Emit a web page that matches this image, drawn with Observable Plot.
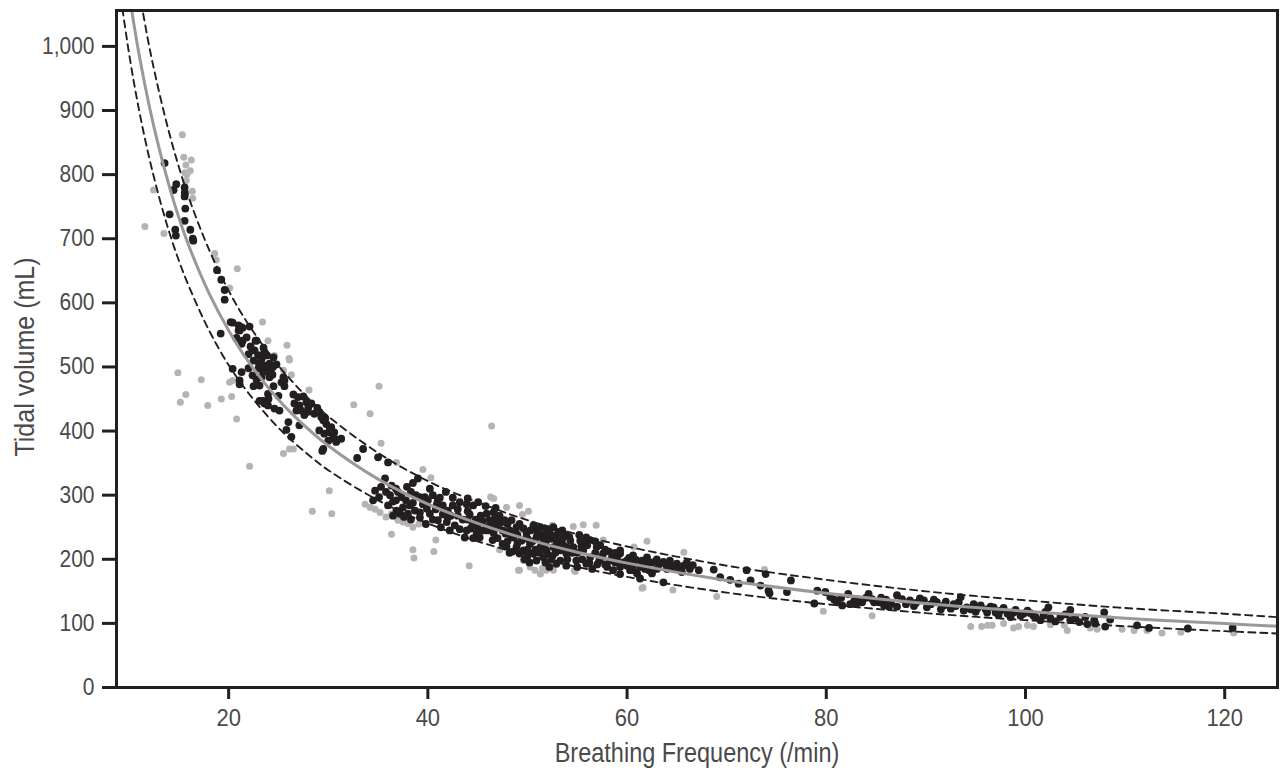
<!DOCTYPE html>
<html>
<head>
<meta charset="utf-8">
<script src="https://cdn.jsdelivr.net/npm/d3@7"></script>
<script src="https://cdn.jsdelivr.net/npm/@observablehq/plot@0.6"></script>
<style>
  html, body { margin: 0; padding: 0; background: #fff; }
  #chart svg g[aria-label$="tick label"] { fill: #4a4a4a; }
</style>
</head>
<body>
<div id="chart"></div>
<script>
// ---- axis setup ----
const xTicks = [20, 40, 60, 80, 100, 120];
const yTicks = [0, 100, 200, 300, 400, 500, 600, 700, 800, 900, 1000];
const xLabel = "Breathing Frequency (/min)";
const yLabel = "Tidal volume (mL)";

// ---- fitted curve (grey, solid) ----
const fitX   = [10, 11, 12, 13, 14, 15, 16, 18, 20, 22, 25, 28, 30, 35, 40, 45, 50, 55, 60, 70, 80, 90, 100, 110, 120, 126];
const fitY   = [1082, 988, 909, 842, 784, 733, 689, 616, 557, 508, 449, 403, 377, 325, 286, 256, 231, 211, 194, 167, 147, 131, 119, 108, 99.7, 95];
// ---- upper / lower dashed bounds ----
const upperX = [11, 12, 13, 14, 15, 16, 18, 20, 22, 25, 28, 30, 35, 40, 45, 50, 55, 60, 70, 80, 90, 100, 110, 120, 126];
const upperY = [1088, 1002, 930, 867, 812, 764, 684, 619, 566, 502, 451, 423, 366, 322, 289, 261, 239, 220, 190, 168, 150, 136, 124, 115, 109];
const lowerX = [9, 10, 11, 12, 13, 14, 15, 16, 18, 20, 22, 25, 28, 30, 35, 40, 45, 50, 55, 60, 70, 80, 90, 100, 110, 120, 126];
const lowerY = [1096, 989, 901, 828, 766, 712, 666, 626, 558, 503, 459, 405, 363, 339, 292, 256, 228, 206, 188, 172.5, 148, 130, 116, 105, 95.6, 87.9, 83.8];

// ---- grey observations [frequency, volume] ----
const greyPts = [
  [15.35,862],[15.5,827],[16.25,823],[15.7,815],[16.15,806],[15.6,803],[15.8,800],[15.75,791],[16.35,774],[16.4,763],
  [12.46,776],[11.59,719],[13.5,708],[18.6,677],[18.76,667],[20.87,653],[20.1,623],[23.4,570],[23.95,541],[25.86,534],
  [26.06,513],[24.45,516],[26.1,511],[25.5,495],[26.3,488],[24.6,518],[20.1,476],[20.4,479],[17.25,480],[15.7,457],
  [15.15,445],[17.9,440],[19.26,450],[20.3,454],[20.8,419],[22.1,345],[28.07,464],[35.1,470],[32.56,441],[34.2,427],
  [35.3,381],[26.1,372],[26.5,372],[25.5,365],[36.85,351],[39.5,340],[40.3,327],[46.4,408],[30.1,307],[14.9,491],
  [28.4,275],[30.35,271],[33.7,286],[34.2,281],[34.7,278],[35.2,273],[35.8,266],[36.35,271],[37.0,261],[37.5,258],
  [38.0,256],[38.5,250],[39.1,255],[36.35,239],[38.5,215],[38.6,202],[40.6,212],[40.8,230],[44.15,190],[46.3,297],
  [46.6,295],[47.9,281],[49.2,284],[50.1,275],[49.5,270],[49.1,183],[50.25,188],[50.75,183],[51.3,177],[51.9,183],
  [52.6,183],[51.5,186],[54.7,183],[52.5,253],[54.6,251],[55.6,254],[56.9,253],[57.6,230],[60.7,219],[62.0,228],
  [61.5,155],[47.2,215],[65.7,211],[61.6,156],[64.6,152],[69.0,142],[73.8,184],[79.7,119],[49.6,198],[49.2,183],
  [54.8,181],[84.6,112],[94.5,95],[95.6,95],[96.2,97],[96.65,97],[97.8,100],[98.8,93],[99.3,95],[100.2,97],
  [100.8,95],[102.5,98],[103.9,97],[104.2,89],[106.5,93],[107.2,91],[109.7,91],[110.9,89],[112.2,89],[113.7,85],
  [115.6,86],[120.9,85]
];

// ---- black observations [frequency, volume] ----
const blackPts = [
  [13.57,818],[14.74,785],[14.47,776],[15.58,780],[15.6,772],[15.58,766],[14.07,738],[15.65,747],[14.64,714],[14.7,705],
  [15.58,728],[16.15,714],[16.4,700],[16.45,697],
  [18.83,651],[19.26,636],[19.6,620],[19.6,605],[19.2,552],[20.2,570],[20.4,569],[21.27,562],[22.1,563],[21,557],
  [20.77,545],[21.4,541],[22.7,541],[21.3,536],[22.44,526],[23.1,518],[23.6,523],
  [21.0,565],[21.4,561],[21.1,557],[21.8,546],[20.8,545],[21.3,539],[22.8,541],[22.6,526],[22.95,518],[23.3,512],
  [23.85,518],[23.6,502],[23.05,505],[24.1,505],[24.45,500],[24.8,504],[23.95,492],[23.45,492],[20.4,497],[21.3,492],
  [22.4,487],[23.3,484],[24.1,484],[25.5,484],[21.1,479],[21.1,473],[23.1,471],[25.6,470],[23.95,458],[23.1,447],
  [23.6,443],[23.95,440],[24.6,435],[25.1,432],[23.45,447],
  [22.0,520],[22.5,510],[23.5,530],[24.2,495],[24.5,515],[22.0,498],[22.8,480],[24.5,470],[25.0,455],[24.0,450],
  [22.2,532],[23.0,498],[24.4,488],[22.5,470],[25.3,476],[28.0,437],[28.9,436],[29.7,420],[30.6,398],[27.6,425],
  [26.5,457],[26.97,453],[27.5,454],[26.6,443],[27.1,440],[27.8,445],[28.3,443],[27.3,432],[27.97,430],[28.6,427],
  [29.1,430],[26.8,432],[25.6,479],[26.0,414],[25.8,402],[26.3,391],[27.1,409],
  [29.5,417],[29.8,411],[29.1,401],[29.6,396],[30.15,398],[30.5,391],[30.0,385],[30.8,383],[31.3,388],[29.5,372],
  [29.4,369],[30.3,406],[33.5,372],[32.9,358],[35.0,359],[36.0,351],[29.3,422],[30.15,403],[30.65,388],
  [35.7,326],[35.3,313],[36.35,315],[34.7,307],[35.1,297],[34.5,292],[36.2,300],[36.8,292],[37.35,297],[37.9,313],
  [38.5,319],[39.0,326],[41.8,305],[40.5,300],[39.2,297],[39.7,297],
  [36.5,290],[37.8,292],[38.8,300],[40.0,292],[40.8,278],[41.5,270],[42.3,268],[43.0,278],[43.5,262],[39.2,265],
  [38.3,262],[37.6,266],[36.5,268],[39.8,255],[41.3,250],[42.2,245],[35.8,305],[36.8,310],[38.3,305],[40.2,310],
  [41.2,296],[44.0,295],[45.8,283],[46.8,280],
  [37.5,281],[38.2,284],[38.7,276],[36.85,276],[37.2,271],[38.0,271],[39.2,273],[39.9,279],[40.2,271],[40.9,286],
  [41.5,284],[42.0,276],[42.5,284],[43.2,289],[43.9,286],[44.55,284],[45.05,289],[41.0,261],[41.9,258],[42.7,253],
  [43.2,247],[43.9,245],[44.9,241],[45.2,234],[43.7,234],[44.55,233],[45.9,271],[46.6,273],[47.2,268],[47.7,261],
  [46.2,261],[46.9,258],[45.9,250],[46.6,241],[46.5,230],[47.5,224],[48.4,261],[48.9,250],[48.6,234],[49.4,229],
  [48.9,219],[49.6,214],[49.2,209],
  [44.2,270],[44.8,262],[45.3,268],[45.6,245],[46.3,252],[46.8,265],[45.0,240],[44.3,248],
  [47.3,257],[47.5,245],[48.0,255],[48.3,238],[48.8,243],[49.2,255],[49.6,248],[49.9,235],[50.3,245],[50.5,228],
  [47.9,220],[48.2,210],[49.0,225],[50.0,205],[49.7,200],
  [51.0,245],[51.5,238],[51.8,225],[52.2,243],[52.8,237],[53.5,245],[53.8,238],[54.2,235],[50.8,215],[51.2,210],
  [52.0,208],[52.8,210],[53.6,222],[54.5,210],[51.8,195],[52.9,193],[53.9,190],[50.2,195],[52.2,188],
  [55.2,238],[55.8,225],[56.3,230],[56.8,228],[57.3,222],[57.8,215],[58.2,212],[58.8,210],[55.4,220],[55.5,200],
  [56.2,195],[57.0,192],[57.5,204],[58.8,195],[59.6,195],[60.2,202],[60.9,199],[61.8,185],[62.5,195],[63.2,192],
  [63.9,192],[64.8,185],[65.3,187],[66.6,191],[61.0,178],[62.2,183],
  [42.0,265],[43.0,268],[44.0,262],[44.5,255],[45.5,260],[46.0,245],[47.0,250],[47.8,240],[48.2,245],[49.0,238],
  [50.0,232],[50.0,215],[51.0,240],[52.0,238],[53.0,225],[53.5,232],[54.0,218],[54.0,200],[55.0,210],[56.0,222],
  [56.8,210],[57.2,198],[57.8,192],[58.5,205],[47.0,233],[48.0,228],[45.0,250],[44.0,275],[41.0,292],[42.5,296],
  [38.5,288],[37.0,305],[36.0,284],[39.5,286],[40.5,262],[48.5,212],[52.5,205],[55.0,188],[56.5,185],[60.0,190],
  [61.5,198],[63.0,185],[64.5,190],[65.5,180],[66.0,195],[62.5,178],
  [49.9,242],[50.6,253],[51.3,250],[51.9,247],[52.6,250],[53.1,242],[50.9,234],[51.6,229],[52.3,232],[52.9,229],
  [50.25,224],[51.3,219],[51.9,214],[52.6,219],[53.3,214],[50.6,209],[51.6,203],[52.4,200],[53.3,198],[50.9,198],
  [53.9,209],[54.3,229],[54.6,219],[55.3,229],[55.9,234],[55.6,214],[54.9,198],[55.9,193],[56.3,203],[56.95,219],
  [57.6,209],[58.3,198],[59.0,203],[58.0,188],[59.3,214],[59.97,198],[60.6,193],[61.3,188],[62.0,193],[61.3,170],
  [62.0,203],[60.6,183],[59.3,177],[58.6,183],
  [59.3,209],[60.6,206],[59.3,188],[60.3,183],[62.98,200],[63.65,196],[64.3,198],[65.0,193],[65.7,190],[66.3,185],
  [64.0,185],[63.65,164],[67.2,183],[68.7,184],[69.35,172],[70.35,168],[71.2,162],[72.0,183],[72.4,167],[73.4,159],
  [73.9,177],[74.2,151],[74.3,147],[76.05,149],[76.45,167],[78.8,131],[79.1,151],[79.9,149],[80.4,141],[81.1,133],
  [81.6,128],[82.2,146],
  [82.4,130],[83.1,138],[83.6,133],[84.25,146],[84.6,138],[85.3,133],[85.8,128],[87.1,144],[87.1,126],[88.4,136],
  [89.8,136],[90.1,125],[91.1,133],[91.8,128],[92.5,123],[93.3,133],[93.5,141],[94.1,125],[94.8,130],[95.5,128],
  [96.15,117],[96.8,125],[97.5,120],[98.2,115],[98.8,117],[99.5,112],[100.2,120],[100.8,112],[101.5,105],[102.3,125],
  [102.5,108],[104.5,121],[104.5,105],[105.4,102],[106.2,99],[106.9,105],[107.9,117],[108.0,95],[108.5,106],[111.2,97],
  [112.4,93],[116.3,92],[120.8,93],
  [80.8,137],[82.8,135],[84.0,140],[86.0,137],[86.5,131],[88.0,130],[89.0,132],[90.5,130],[92.0,134],[93.0,127],
  [94.5,122],[95.0,118],[96.0,122],[97.0,117],[97.8,124],[99.0,121],[100.5,116],[101.0,110],[103.0,103],[105.0,108],
  [107.0,100],
  [81.5,140],[83.0,130],[84.8,133],[85.5,140],[86.3,126],[87.6,138],[88.8,127],[89.4,139],[90.8,137],[91.5,122],
  [92.8,130],[93.8,120],[95.2,124],[96.5,126],[97.3,113],[98.5,110],[99.8,115],[101.8,112],[102.0,118],[103.5,110],
  [104.0,114],[106.0,110]
];

const fit = fitX.map((x, i) => ({x, y: fitY[i]}));
const upper = upperX.map((x, i) => ({x, y: upperY[i]}));
const lower = lowerX.map((x, i) => ({x, y: lowerY[i]}));

const INK = "#231f20";
const FONT = "'Liberation Sans', Arial, Helvetica, sans-serif";

const chart = Plot.plot({
  width: 1280,
  height: 770,
  marginTop: 10,
  marginRight: 3,
  marginBottom: 83,
  marginLeft: 116,
  style: {fontFamily: FONT, background: "#fff", overflow: "visible"},
  x: {domain: [8.74, 125.3]},
  y: {domain: [0, 1056]},
  marks: [
    Plot.dot(greyPts, {x: d => d[0], y: d => d[1], r: 3.5, fill: "#b4b4b6", stroke: "none"}),
    Plot.dot(blackPts, {x: d => d[0], y: d => d[1], r: 3.9, fill: INK, stroke: "none"}),
    Plot.line(upper, {x: "x", y: "y", curve: "catmull-rom", stroke: INK, strokeWidth: 1.9, strokeDasharray: "7,5", clip: true}),
    Plot.line(lower, {x: "x", y: "y", curve: "catmull-rom", stroke: INK, strokeWidth: 1.9, strokeDasharray: "7,5", clip: true}),
    Plot.line(fit, {x: "x", y: "y", curve: "catmull-rom", stroke: "#999999", strokeWidth: 3, clip: true}),
    Plot.frame({stroke: INK, strokeWidth: 3}),
    Plot.axisX({ticks: xTicks, tickSize: 12, tickPadding: 10, fontSize: 22, stroke: INK, strokeWidth: 3, label: null}),
    Plot.axisY({ticks: yTicks, tickSize: 14, tickPadding: 8, fontSize: 21, stroke: INK, strokeWidth: 3, label: null}),
    Plot.text([xLabel], {frameAnchor: "bottom", dy: 66, textAnchor: "middle", lineAnchor: "middle", fontSize: 23.5, fill: "#4a4a4a"}),
    Plot.text([yLabel], {frameAnchor: "left", dx: -91, dy: 8, rotate: -90, textAnchor: "middle", lineAnchor: "middle", fontSize: 25, fill: "#4a4a4a"})
  ]
});

// The reference glyphs are a little taller than Arial's proportions: stretch text slightly.
function stretch(selector, k) {
  chart.querySelectorAll(selector).forEach(t => {
    const tr = t.getAttribute("transform") || "";
    t.setAttribute("transform", tr + ` scale(1,${k})`);
  });
}
stretch('g[aria-label="x-axis tick label"] text', 1.08);
stretch('g[aria-label="y-axis tick label"] text', 1.12);
const texts = chart.querySelectorAll('g[aria-label="text"]');
texts.forEach(g => g.querySelectorAll("text").forEach(t => {
  const tr = t.getAttribute("transform") || "";
  const k = tr.includes("rotate") ? 1.12 : 1.18;
  t.setAttribute("transform", tr + ` scale(1,${k})`);
}));

document.getElementById("chart").append(chart);
</script>
</body>
</html>
